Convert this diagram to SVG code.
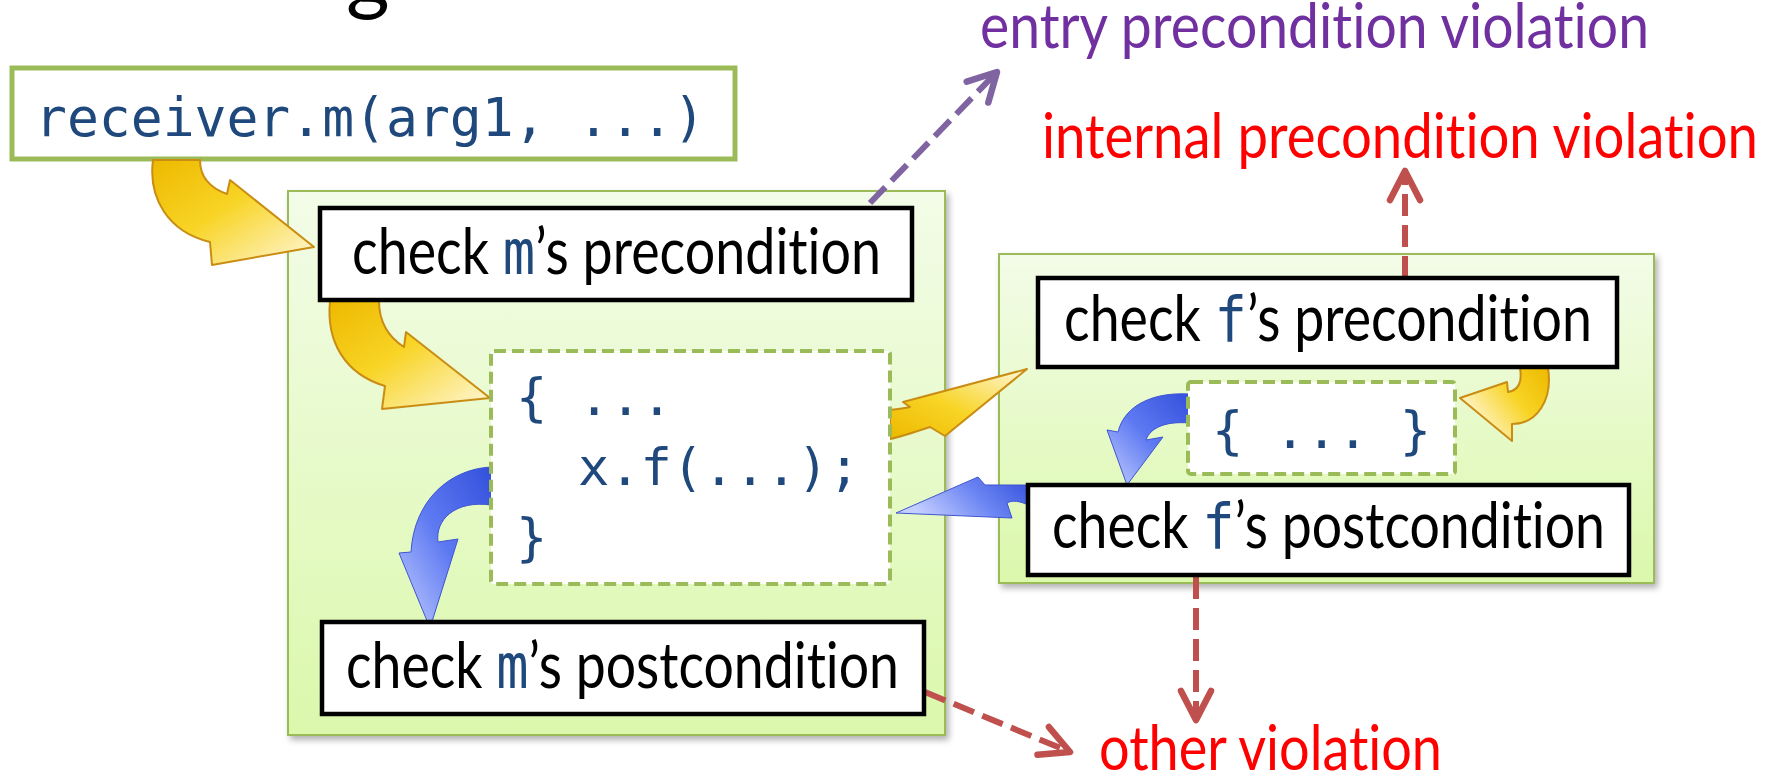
<svg xmlns="http://www.w3.org/2000/svg" width="1767" height="777" viewBox="0 0 1767 777">
<style>
.lbl{font-family:Lato,"Liberation Sans",sans-serif;font-size:63px;fill:#000;font-variant-ligatures:none;font-feature-settings:"liga" 0}
.vio{font-size:61px}
.mono{font-family:"DejaVu Sans Mono","Liberation Mono",monospace;fill:#1F497D}
.code{font-family:"DejaVu Sans Mono","Liberation Mono",monospace;font-size:52px;fill:#1F497D}
.gbox{fill:url(#gg);stroke:#9BBB59;stroke-width:2;filter:url(#sh)}
.bbox{fill:#fff;stroke:#000;stroke-width:4.5}
.dbox{fill:#fff;stroke:#9BBB59;stroke-width:4;stroke-dasharray:12 6}
.yarr{stroke:#C98D14;stroke-width:2;stroke-linejoin:round}
.barr{stroke:#3F55D0;stroke-width:1;stroke-linejoin:round}
.dp{fill:none;stroke:#8064A2;stroke-width:6;stroke-dasharray:22 9}
.dr{fill:none;stroke:#C0504D;stroke-width:6;stroke-dasharray:22 9}
</style>
<defs>
<linearGradient id="gg" x1="0" y1="0" x2="0" y2="1">
<stop offset="0" stop-color="#F3FCE8"/><stop offset="1" stop-color="#DBF8AC"/>
</linearGradient>
<linearGradient id="yTL" x1="0" y1="0" x2="1" y2="1">
<stop offset="0" stop-color="#EDB900"/><stop offset="0.45" stop-color="#F8D425"/><stop offset="1" stop-color="#FFF8DC"/>
</linearGradient>
<linearGradient id="yBL" x1="0" y1="1" x2="1" y2="0">
<stop offset="0" stop-color="#EDB900"/><stop offset="0.45" stop-color="#F8D425"/><stop offset="1" stop-color="#FFF8DC"/>
</linearGradient>
<linearGradient id="yTR" x1="1" y1="0" x2="0" y2="0.6">
<stop offset="0" stop-color="#EDB900"/><stop offset="0.45" stop-color="#F8D425"/><stop offset="1" stop-color="#FFF8DC"/>
</linearGradient>
<linearGradient id="bTR" x1="1" y1="0" x2="0" y2="1">
<stop offset="0" stop-color="#3350DC"/><stop offset="0.5" stop-color="#5E7AF2"/><stop offset="1" stop-color="#C4CEFF"/>
</linearGradient>
<linearGradient id="bR" x1="1" y1="0" x2="0" y2="0.3">
<stop offset="0" stop-color="#3350DC"/><stop offset="0.5" stop-color="#6F88F4"/><stop offset="1" stop-color="#C4CEFF"/>
</linearGradient>
<filter id="sh" x="-5%" y="-5%" width="115%" height="115%">
<feDropShadow dx="3" dy="4" stdDeviation="3" flood-color="#000" flood-opacity="0.3"/>
</filter>
<marker id="mP" markerUnits="userSpaceOnUse" markerWidth="80" markerHeight="80" refX="0" refY="0" viewBox="-40 -40 80 80" orient="auto" overflow="visible">
<path d="M -28,-15 L 0,0 L -28,15" fill="none" stroke="#8064A2" stroke-width="6.5" stroke-linecap="round" stroke-linejoin="round"/>
</marker>
<marker id="mR" markerUnits="userSpaceOnUse" markerWidth="80" markerHeight="80" refX="0" refY="0" viewBox="-40 -40 80 80" orient="auto" overflow="visible">
<path d="M -29,-15 L 0,0 L -29,15" fill="none" stroke="#C0504D" stroke-width="6.5" stroke-linecap="round" stroke-linejoin="round"/>
</marker>
</defs>
<rect width="1767" height="777" fill="#fff"/>

<text x="346" y="4" style="font-family:Lato,'Liberation Sans',sans-serif;font-size:84px;fill:#000">g</text>

<g id="method-m">
<rect class="gbox" x="288" y="191" width="657" height="544"/>
</g>
<g id="method-f">
<rect class="gbox" x="999" y="254" width="655" height="329"/>
</g>

<g id="call">
<rect x="12" y="68" width="723" height="91" fill="#fff" stroke="#9BBB59" stroke-width="5"/>
<text class="code" x="35" y="136" style="font-size:53px">receiver.m(arg1, ...)</text>
</g>

<g id="connectors">
<path class="yarr" fill="url(#yTL)" d="M 153,160 C 148,198 168,232 210,242 L 212,265 L 314,247 L 230,180 L 227,194 C 210,188 200,178 200,160 Z"/>
<path class="yarr" fill="url(#yTL)" d="M 330,301 C 326,342 345,374 385,386 L 382,409 L 490,398 L 406,332 L 404,347 C 390,338 379,325 379,301 Z"/>
<path class="yarr" fill="url(#yBL)" d="M 890,410 C 898,409 905,408 910,407 L 903,402 L 1027,369 L 945,436 L 930,427 C 915,432 900,437 890,439 Z"/>
<path class="yarr" fill="url(#yTR)" d="M 1520,368 C 1522,380 1520,390 1508,392 L 1507,382 L 1460,398 L 1512,441 L 1512,424 C 1537,424 1553,400 1548,368 Z"/>
<path class="barr" fill="url(#bTR)" d="M 491,467 C 450,469 414,500 411,552 L 399,553 L 430,628 L 458,539 L 438,542 C 435,520 455,500 491,505 Z"/>
<path class="barr" fill="url(#bR)" d="M 1028,485 L 985,485 L 978,477 L 896,513 L 1012,518 L 1007,503 C 1012,500 1020,501 1028,505 Z"/>
<path class="barr" fill="url(#bTR)" d="M 1189,394 C 1155,392 1125,404 1118,432 L 1107,430 L 1127,485 L 1163,437 L 1146,440 C 1150,428 1165,421 1189,423 Z"/>
<path class="dp" d="M 870,203 L 997,72" marker-end="url(#mP)"/>
<path class="dr" d="M 1405,278 L 1405,171" marker-end="url(#mR)"/>
<path class="dr" d="M 1196,577 L 1196,720" marker-end="url(#mR)"/>
<path class="dr" d="M 925,692 L 1070,752" marker-end="url(#mR)"/>
</g>

<g id="m-pre">
<rect class="bbox" x="320" y="208" width="592" height="92"/>
<text class="lbl" x="352" y="274" textLength="529" lengthAdjust="spacingAndGlyphs">check <tspan class="mono">m</tspan>’s precondition</text>
</g>
<g id="m-body">
<rect class="dbox" x="491" y="351" width="399" height="233" rx="3"/>
<text class="code" x="516" y="415">{ ...</text>
<text class="code" x="578" y="485">x.f(...);</text>
<text class="code" x="516" y="555">}</text>
</g>
<g id="m-post">
<rect class="bbox" x="322" y="622" width="602" height="92"/>
<text class="lbl" x="346" y="688" textLength="553" lengthAdjust="spacingAndGlyphs">check <tspan class="mono">m</tspan>’s postcondition</text>
</g>
<g id="f-pre">
<rect class="bbox" x="1038" y="278" width="579" height="89"/>
<text class="lbl" x="1064" y="341" textLength="528" lengthAdjust="spacingAndGlyphs">check <tspan class="mono">f</tspan>’s precondition</text>
</g>
<g id="f-body">
<rect class="dbox" x="1188" y="382" width="267" height="92" rx="3"/>
<text class="code" x="1212" y="448">{ ... }</text>
</g>
<g id="f-post">
<rect class="bbox" x="1028" y="485" width="601" height="90"/>
<text class="lbl" x="1052" y="548" textLength="553" lengthAdjust="spacingAndGlyphs">check <tspan class="mono">f</tspan>’s postcondition</text>
</g>

<g id="entry-violation">
<text class="lbl vio" x="980" y="48" style="fill:#7030A0" textLength="669" lengthAdjust="spacingAndGlyphs">entry precondition violation</text>
</g>
<g id="internal-violation">
<text class="lbl vio" x="1042" y="158" style="fill:#FF0000" textLength="716" lengthAdjust="spacingAndGlyphs">internal precondition violation</text>
</g>
<g id="other-violation">
<text class="lbl vio" x="1099" y="770" style="fill:#FF0000" textLength="343" lengthAdjust="spacingAndGlyphs">other violation</text>
</g>
</svg>
